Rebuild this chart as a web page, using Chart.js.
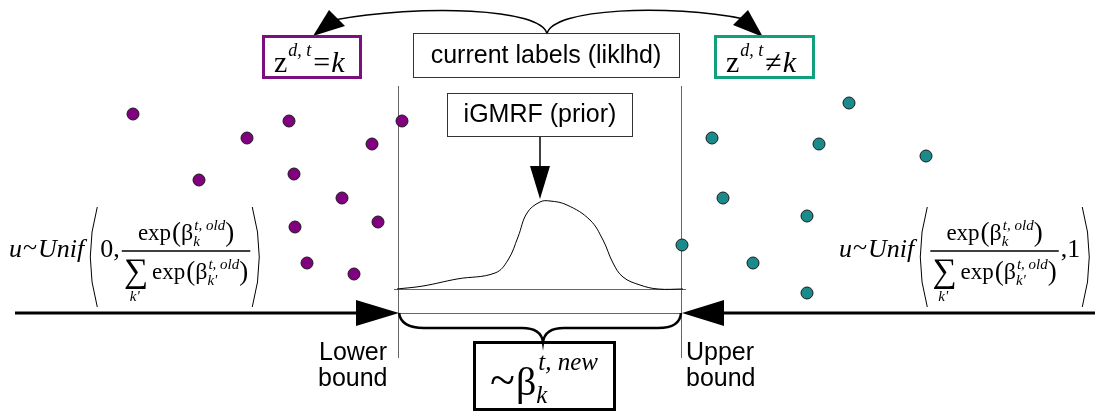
<!DOCTYPE html>
<html>
<head>
<meta charset="utf-8">
<script src="https://cdn.jsdelivr.net/npm/chart.js@4.4.0/dist/chart.umd.min.js"></script>
<style>
  html, body { margin: 0; padding: 0; background: #fff; }
  #wrap { width: 1103px; height: 417px; position: relative; }
</style>
</head>
<body>
<div id="wrap"><canvas id="diagram"></canvas></div>
<script>
// dots whose current label is z = k (purple) and z != k (teal)
const purpleX = [133, 289, 402, 247, 372, 199, 294, 342, 295, 378, 307, 354];
const purpleY = [114, 121, 121, 138, 144, 180, 174, 198, 227, 222, 263, 274];
const tealX = [849, 712, 819, 926, 723, 807, 682, 753, 807];
const tealY = [103, 138, 144, 156, 198, 216, 245, 263, 293];

// likelihood x prior curve between lower and upper bound
const curveX = [397, 423, 457, 495, 508, 518, 527, 540, 550, 567, 590, 603, 613, 623, 640, 658, 683];
const curveY = [289, 286, 279, 273, 260, 237, 213, 202, 201, 205, 220, 240, 263, 277, 285, 289, 289];

// texts
const boxLabels = ['current labels (liklhd)', 'iGMRF (prior)'];
const boundLabels = [['Lower', 'bound'], ['Upper', 'bound']];

const SERIF = "'Liberation Serif', 'DejaVu Serif', serif";
const SANS = "'Liberation Sans', Arial, sans-serif";

function toPts(xs, ys) {
    return xs.map((x, i) => ({ x: x, y: ys[i] }));
}

// draws β with stacked sub/superscript, returns the end x
function beta(ctx, x, base, size, sub, sup, draw) {
    ctx.font = size + 'px ' + SERIF;
    const wb = ctx.measureText('β').width;
    if (draw) ctx.fillText('β', x, base);
    const s = Math.round(size * 0.62);
    ctx.font = 'italic ' + s + 'px ' + SERIF;
    const w1 = ctx.measureText(sup).width;
    const w2 = ctx.measureText(sub).width;
    if (draw) {
        ctx.fillText(sup, x + wb + 1, base - size * 0.42);
        ctx.fillText(sub, x + wb, base + size * 0.24);
    }
    return x + wb + Math.max(w1, w2) + 1;
}

// exp( β_sub^{t,old} ) , returns end x
function expBeta(ctx, x, base, sub, draw) {
    ctx.font = '23px ' + SERIF;
    if (draw) ctx.fillText('exp', x, base);
    x += ctx.measureText('exp').width + 1;
    ctx.font = '27px ' + SERIF;
    if (draw) ctx.fillText('(', x, base + 1);
    x += ctx.measureText('(').width;
    x = beta(ctx, x, base, 24, sub, 't, old', draw);
    ctx.font = '27px ' + SERIF;
    if (draw) ctx.fillText(')', x, base + 1);
    return x + ctx.measureText(')').width;
}

function paren(ctx, x, top, bot, left) {
    const mid = (top + bot) / 2;
    ctx.beginPath();
    if (left) {
        ctx.moveTo(x + 9, top);
        ctx.quadraticCurveTo(x - 5, mid, x + 9, bot);
    } else {
        ctx.moveTo(x, top);
        ctx.quadraticCurveTo(x + 14, mid, x, bot);
    }
    ctx.stroke();
}

// u ~ Unif( 0, frac ) or u ~ Unif( frac, 1 )
function unif(ctx, x, base, zeroFirst) {
    ctx.fillStyle = '#000';
    ctx.strokeStyle = '#000';
    ctx.textAlign = 'left';
    ctx.textBaseline = 'alphabetic';
    ctx.font = 'italic 26px ' + SERIF;
    ctx.fillText('u', x, base);
    x += ctx.measureText('u').width + 1;
    ctx.font = '26px ' + SERIF;
    ctx.fillText('~', x, base - 2);
    x += ctx.measureText('~').width + 1;
    ctx.font = 'italic 26px ' + SERIF;
    ctx.fillText('Unif', x, base);
    x += ctx.measureText('Unif').width + 4;

    ctx.lineWidth = 1;
    paren(ctx, x, base - 50, base + 50, true);
    x += 12;
    if (zeroFirst) {
        ctx.font = '26px ' + SERIF;
        ctx.fillText('0,', x, base);
        x += ctx.measureText('0,').width + 2;
    }
    const numW = expBeta(ctx, 0, 0, 'k', false);
    ctx.font = '34px ' + SERIF;
    const sigW = ctx.measureText('∑').width;
    const denW = sigW + 4 + expBeta(ctx, 0, 0, "k'", false);
    const W = Math.max(numW, denW) + 4;
    const barY = base - 6;
    ctx.lineWidth = 1.6;
    ctx.beginPath();
    ctx.moveTo(x, barY);
    ctx.lineTo(x + W, barY);
    ctx.stroke();
    expBeta(ctx, x + (W - numW) / 2, barY - 11, 'k', true);
    const dx = x + (W - denW) / 2;
    ctx.font = '34px ' + SERIF;
    ctx.fillText('∑', dx, barY + 31);
    ctx.font = 'italic 15px ' + SERIF;
    ctx.fillText("k'", dx + 6, barY + 50);
    expBeta(ctx, dx + sigW + 4, barY + 28, "k'", true);
    x += W + 2;
    if (!zeroFirst) {
        ctx.font = '26px ' + SERIF;
        ctx.fillText(',1', x, base);
        x += ctx.measureText(',1').width + 2;
    }
    ctx.lineWidth = 1;
    paren(ctx, x, base - 50, base + 50, false);
}

function zLabel(ctx, x, base, rel) {
    ctx.fillStyle = '#000';
    ctx.textAlign = 'left';
    ctx.font = '30px ' + SERIF;
    ctx.fillText('z', x, base);
    x += ctx.measureText('z').width + 1;
    ctx.font = 'italic 18px ' + SERIF;
    ctx.fillText('d, t', x, base - 16);
    x += ctx.measureText('d, t').width + 2;
    ctx.font = '30px ' + SERIF;
    ctx.fillText(rel, x, base);
    x += ctx.measureText(rel).width + 1;
    ctx.font = 'italic 30px ' + SERIF;
    ctx.fillText('k', x, base);
}

function arrowHead(ctx, pts) {
    ctx.beginPath();
    ctx.moveTo(pts[0][0], pts[0][1]);
    ctx.lineTo(pts[1][0], pts[1][1]);
    ctx.lineTo(pts[2][0], pts[2][1]);
    ctx.closePath();
    ctx.fill();
}

const diagramPlugin = {
    id: 'diagram',
    beforeDatasetsDraw(chart) {
        const ctx = chart.ctx;
        const X = v => chart.scales.x.getPixelForValue(v);
        const Y = v => chart.scales.y.getPixelForValue(v);
        ctx.save();
        // bound lines
        ctx.strokeStyle = '#666';
        ctx.lineWidth = 1;
        [398.5, 681.5].forEach(v => {
            ctx.beginPath();
            ctx.moveTo(X(v), Y(86));
            ctx.lineTo(X(v), Y(358));
            ctx.stroke();
        });
        ctx.beginPath();
        ctx.moveTo(X(394), Y(289.5));
        ctx.lineTo(X(686), Y(289.5));
        ctx.moveTo(X(398), Y(313.5));
        ctx.lineTo(X(682), Y(313.5));
        ctx.stroke();

        // thick arrows towards the bounds
        ctx.strokeStyle = '#000';
        ctx.fillStyle = '#000';
        ctx.lineWidth = 3;
        ctx.beginPath();
        ctx.moveTo(X(15), Y(313));
        ctx.lineTo(X(360), Y(313));
        ctx.moveTo(X(720), Y(313));
        ctx.lineTo(X(1095), Y(313));
        ctx.stroke();
        arrowHead(ctx, [[X(356), Y(300)], [X(399), Y(313)], [X(356), Y(326)]]);
        arrowHead(ctx, [[X(724), Y(300)], [X(682), Y(313)], [X(724), Y(326)]]);

        // brace under the interval
        ctx.lineWidth = 2.5;
        ctx.beginPath();
        ctx.moveTo(X(399), Y(313));
        ctx.quadraticCurveTo(X(401), Y(328), X(424), Y(328));
        ctx.lineTo(X(522), Y(328));
        ctx.quadraticCurveTo(X(541), Y(328), X(543), Y(342));
        ctx.quadraticCurveTo(X(545), Y(328), X(564), Y(328));
        ctx.lineTo(X(658), Y(328));
        ctx.quadraticCurveTo(X(680), Y(328), X(681), Y(313));
        ctx.stroke();
        ctx.restore();
    },
    afterDatasetsDraw(chart) {
        const ctx = chart.ctx;
        const X = v => chart.scales.x.getPixelForValue(v);
        const Y = v => chart.scales.y.getPixelForValue(v);
        ctx.save();

        // top curved arrows
        ctx.strokeStyle = '#000';
        ctx.fillStyle = '#000';
        ctx.lineWidth = 1.5;
        ctx.beginPath();
        ctx.moveTo(X(547), Y(34));
        ctx.bezierCurveTo(X(542), Y(8), X(420), Y(4), X(334), Y(20));
        ctx.moveTo(X(547), Y(34));
        ctx.bezierCurveTo(X(552), Y(8), X(670), Y(4), X(744), Y(19));
        ctx.stroke();
        arrowHead(ctx, [[X(313), Y(36)], [X(329), Y(10)], [X(345), Y(26)]]);
        arrowHead(ctx, [[X(763), Y(37)], [X(733), Y(25)], [X(748), Y(10)]]);

        // iGMRF arrow
        ctx.lineWidth = 1.5;
        ctx.beginPath();
        ctx.moveTo(X(540), Y(136));
        ctx.lineTo(X(540), Y(170));
        ctx.stroke();
        arrowHead(ctx, [[X(530), Y(166)], [X(550), Y(166)], [X(540), Y(199)]]);

        // label boxes
        ctx.lineWidth = 1;
        ctx.strokeStyle = '#333';
        ctx.strokeRect(X(413.5), Y(33.5), 266, 44);
        ctx.strokeRect(X(447.5), Y(93.5), 185, 43);
        ctx.font = '25px ' + SANS;
        ctx.textAlign = 'center';
        ctx.textBaseline = 'middle';
        ctx.fillText(boxLabels[0], X(546), Y(56));
        ctx.fillText(boxLabels[1], X(540), Y(115));

        ctx.lineWidth = 3;
        ctx.strokeStyle = '#7b0f7d';
        ctx.strokeRect(X(263.5), Y(36.5), 97, 41);
        ctx.strokeStyle = '#12a07c';
        ctx.strokeRect(X(715.5), Y(36.5), 98, 41);
        ctx.textBaseline = 'alphabetic';
        zLabel(ctx, X(274), Y(72), '=');
        zLabel(ctx, X(726), Y(72), '≠');

        // bound captions
        ctx.font = '25px ' + SANS;
        ctx.textAlign = 'left';
        ctx.fillStyle = '#000';
        ctx.fillText(boundLabels[0][0], X(319), Y(360));
        ctx.fillText(boundLabels[0][1], X(318), Y(386));
        ctx.fillText(boundLabels[1][0], X(686), Y(360));
        ctx.fillText(boundLabels[1][1], X(686), Y(386));

        // new beta box
        ctx.lineWidth = 3;
        ctx.strokeStyle = '#000';
        ctx.strokeRect(X(474.5), Y(342.5), 140, 67);
        ctx.font = '46px ' + SERIF;
        ctx.fillText('~', X(490), Y(395));
        const bx = X(490) + ctx.measureText('~').width + 1;
        ctx.font = '40px ' + SERIF;
        ctx.fillText('β', bx, Y(395));
        const bw = ctx.measureText('β').width;
        ctx.font = 'italic 25px ' + SERIF;
        ctx.fillText('t, new', bx + bw + 2, Y(370));
        ctx.fillText('k', bx + bw, Y(403));

        // sampling formulas
        unif(ctx, X(9), Y(257), true);
        unif(ctx, X(839), Y(257), false);
        ctx.restore();
    }
};

new Chart(document.getElementById('diagram'), {
    type: 'scatter',
    data: {
        datasets: [
            {
                label: 'curve',
                data: toPts(curveX, curveY),
                showLine: true,
                tension: 0.4,
                borderColor: '#000',
                borderWidth: 1,
                pointRadius: 0
            },
            {
                label: 'z = k',
                data: toPts(purpleX, purpleY),
                backgroundColor: '#800080',
                borderColor: '#1a1a1a',
                borderWidth: 1,
                pointRadius: 6
            },
            {
                label: 'z != k',
                data: toPts(tealX, tealY),
                backgroundColor: '#1b8a8a',
                borderColor: '#1a1a1a',
                borderWidth: 1,
                pointRadius: 6
            }
        ]
    },
    options: {
        responsive: true,
        maintainAspectRatio: false,
        animation: false,
        layout: { padding: 0, autoPadding: false },
        clip: false,
        scales: {
            x: { type: 'linear', min: 0, max: 1103, display: false },
            y: { type: 'linear', min: 0, max: 417, reverse: true, display: false }
        },
        plugins: {
            legend: { display: false },
            tooltip: { enabled: false }
        }
    },
    plugins: [diagramPlugin]
});
</script>
</body>
</html>
